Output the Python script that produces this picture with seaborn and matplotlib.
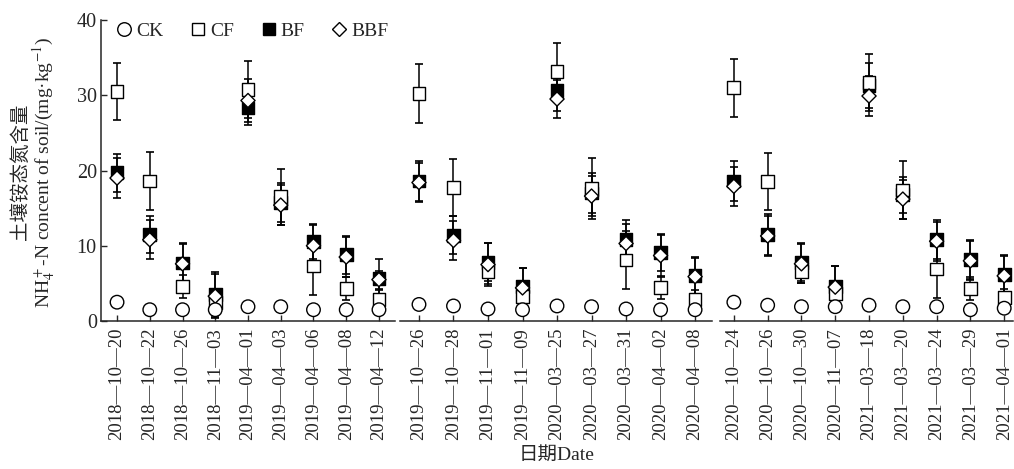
import matplotlib
matplotlib.use('Agg')
import matplotlib.pyplot as plt
from matplotlib.lines import Line2D
import seaborn as sns
import pandas as pd

# sampling dates, three seasons of nine
dates = ['2018-10-20', '2018-10-22', '2018-10-26', '2018-11-03', '2019-04-01',
         '2019-04-03', '2019-04-06', '2019-04-08', '2019-04-12',
         '2019-10-26', '2019-10-28', '2019-11-01', '2019-11-09', '2020-03-25',
         '2020-03-27', '2020-03-31', '2020-04-02', '2020-04-08',
         '2020-10-24', '2020-10-26', '2020-10-30', '2020-11-07', '2021-03-18',
         '2021-03-20', '2021-03-24', '2021-03-29', '2021-04-01']

ck = [2.5, 1.5, 1.5, 1.5, 1.9, 1.9, 1.5, 1.5, 1.5,
      2.2, 2.0, 1.6, 1.5, 2.0, 1.9, 1.6, 1.5, 1.5,
      2.5, 2.1, 1.9, 1.9, 2.1, 1.9, 1.9, 1.5, 1.7]
ck_sd = [0.3] * 27

cf = [30.5, 18.6, 4.6, 2.5, 30.8, 16.5, 7.3, 4.3, 2.9,
      30.2, 17.7, 6.6, 3.3, 33.2, 17.6, 8.1, 4.4, 2.9,
      31.0, 18.5, 6.6, 3.7, 31.7, 17.4, 6.9, 4.3, 3.1]
cf_sd = [3.8, 3.8, 1.5, 1.0, 3.8, 3.7, 3.9, 1.5, 1.2,
         3.9, 3.8, 1.7, 1.0, 3.7, 4.0, 3.8, 1.5, 1.2,
         3.85, 3.8, 1.5, 1.0, 3.8, 3.8, 3.8, 1.5, 1.2]

bf = [19.7, 11.5, 7.7, 3.5, 28.3, 15.8, 10.6, 8.8, 5.6,
      18.6, 11.4, 7.8, 4.6, 30.6, 17.0, 10.8, 9.1, 6.0,
      18.6, 11.5, 7.8, 4.6, 31.3, 16.8, 10.8, 8.2, 6.2]
bf_sd = [2.5, 2.5, 2.6, 3.0, 2.3, 2.6, 2.3, 2.5, 2.6,
         2.6, 2.5, 2.5, 2.5, 2.7, 2.7, 2.6, 2.4, 2.5,
         2.6, 2.7, 2.5, 2.7, 3.0, 2.4, 2.6, 2.6, 2.6]

bbf = [19.0, 10.8, 7.6, 3.3, 29.3, 15.4, 10.0, 8.5, 5.5,
       18.4, 10.7, 7.5, 4.4, 29.5, 16.6, 10.3, 8.7, 5.9,
       17.9, 11.3, 7.6, 4.5, 29.9, 16.2, 10.6, 8.0, 6.0]
bbf_sd = [2.6, 2.6, 2.6, 2.9, 2.9, 2.7, 2.7, 2.7, 1.2,
          2.6, 2.6, 2.8, 2.6, 2.5, 2.7, 2.6, 2.7, 2.5,
          2.6, 2.6, 2.6, 2.8, 2.6, 2.6, 2.6, 2.6, 2.6]

treats = ['BF', 'CF', 'BBF', 'CK']   # drawing order (later on top)
means = {'CK': ck, 'CF': cf, 'BF': bf, 'BBF': bbf}
sds = {'CK': ck_sd, 'CF': cf_sd, 'BF': bf_sd, 'BBF': bbf_sd}

rows = []
for t in treats:
    for i, d in enumerate(dates):
        rows.append({'date': d, 'seg': i // 9, 'pos': i % 9, 'treat': t,
                     'value': means[t][i], 'sd': sds[t][i]})
df = pd.DataFrame(rows)

sns.set_style('ticks')
plt.rcParams['font.family'] = ['Liberation Serif', 'Noto Sans CJK SC']
plt.rcParams['mathtext.fontset'] = 'stix'
plt.rcParams['axes.linewidth'] = 1.1

markers = {'CK': 'o', 'CF': 's', 'BF': 's', 'BBF': 'D'}
faces = {'CK': 'white', 'CF': 'white', 'BF': 'black', 'BBF': 'white'}
sizes = {'CK': 95, 'CF': 85, 'BF': 85, 'BBF': 52}

W, H = 1014, 469
fig = plt.figure(figsize=(W / 100, H / 100), dpi=100)
# axes spans in pixels (left, right) and xlims per segment
spans = [(101, 395), (400, 712), (720, 1013)]
xlims = [(-0.49, 8.49), (-0.55, 8.49), (-0.41, 8.26)]
top_px, bot_px = 20, 321

axes = []
for k in range(3):
    l, r = spans[k]
    ax = fig.add_axes([l / W, 1 - bot_px / H, (r - l) / W, (bot_px - top_px) / H])
    axes.append(ax)
    sub = df[df.seg == k]
    for t in treats:
        s = sub[sub.treat == t]
        ax.errorbar(s.pos, s.value, yerr=s.sd, fmt='none', ecolor='black',
                    elinewidth=1.1, capsize=3.2, capthick=1.2, zorder=2)
    sns.scatterplot(data=sub, x='pos', y='value', hue='treat', style='treat',
                    size='treat', hue_order=treats, palette=faces, markers=markers,
                    sizes=sizes, edgecolor='black', linewidth=1.0, legend=False,
                    zorder=3, ax=ax)
    ax.set_xlim(*xlims[k])
    ax.set_ylim(0, 40)
    ax.set_xticks(range(9))
    ax.set_xticklabels([d.replace('-', '—') for d in dates[k * 9:(k + 1) * 9]],
                       rotation=90, fontsize=13.5)
    ax.set_xlabel('')
    ax.set_ylabel('')
    ax.tick_params(axis='x', direction='in', length=4, width=1, pad=5)
    ax.spines['top'].set_visible(False)
    ax.spines['right'].set_visible(False)
    if k == 0:
        ax.set_yticks([0, 10, 20, 30, 40])
        ax.tick_params(axis='y', direction='in', length=4, width=1, labelsize=14.5, pad=3)
    else:
        ax.spines['left'].set_visible(False)
        ax.set_yticks([])

handles = [Line2D([], [], marker=markers[t], linestyle='none', markerfacecolor=faces[t],
                  markeredgecolor='black', markeredgewidth=1.0,
                  markersize=(sizes[t] ** 0.5))
           for t in ['CK', 'CF', 'BF', 'BBF']]
axes[0].legend(handles, ['CK', 'CF', 'BF', 'BBF'], loc='upper left', ncol=4,
               frameon=False, fontsize=14, handletextpad=0.1, columnspacing=1.3,
               handlelength=1.0, bbox_to_anchor=(0.02, 1.018), borderaxespad=0)

fig.text(20 / W, 1 - 172 / H, '土壤铵态氮含量', rotation=90, ha='center', va='center',
         fontsize=14)
fig.text(44 / W, 1 - 173 / H, 'NH$_4^+$-N concent of soil/(mg·kg$^{-1}$)',
         rotation=90, ha='center', va='center', fontsize=14)
fig.text(557 / W, 1 - 455 / H, '日期Date', ha='center', va='center', fontsize=14)

fig.savefig('out.png', dpi=100)
